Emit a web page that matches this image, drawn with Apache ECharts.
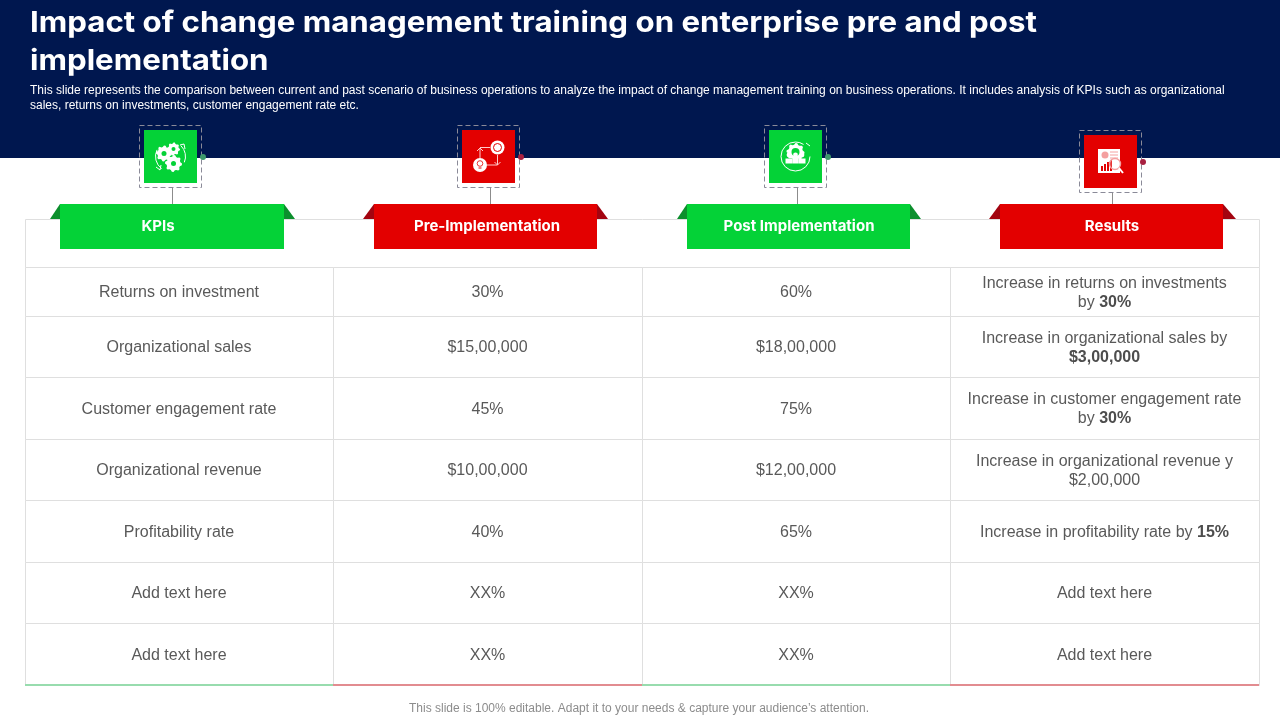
<!DOCTYPE html>
<html>
<head>
<meta charset="utf-8">
<title>Change management training</title>
<script src="https://cdn.jsdelivr.net/npm/echarts@6/dist/echarts.min.js"></script>
<style>
  html, body { margin: 0; padding: 0; background: #fff; }
  #main { width: 1280px; height: 720px; }
</style>
</head>
<body>
<div id="main"></div>
<script>
// table content
const titleLines = [
  'Impact of change management training on enterprise pre and post',
  'implementation'
];
const subtitleLines = [
  'This slide represents the comparison between current and past scenario of business operations to analyze the impact of change management training on business operations. It includes analysis of KPIs such as organizational',
  'sales, returns on investments, customer engagement rate etc.'
];
const footerText = 'This slide is 100% editable. Adapt it to your needs & capture your audience’s attention.';
const headers = ['KPIs', 'Pre-Implementation', 'Post Implementation', 'Results'];
const kpis = ['Returns on investment', 'Organizational sales', 'Customer engagement rate', 'Organizational revenue', 'Profitability rate', 'Add text here', 'Add text here'];
const preValues = ['30%', '$15,00,000', '45%', '$10,00,000', '40%', 'XX%', 'XX%'];
const postValues = ['60%', '$18,00,000', '75%', '$12,00,000', '65%', 'XX%', 'XX%'];
const results = [
  'Increase in returns on investments\nby {b|30%}',
  'Increase in organizational sales by\n{b|$3,00,000}',
  'Increase in customer engagement rate\nby {b|30%}',
  'Increase in organizational revenue y\n$2,00,000',
  'Increase in profitability rate by {b|15%}',
  'Add text here',
  'Add text here'
];

// layout, in slide pixels
const columnEdges = [25, 333, 642, 950, 1259];
const rowEdges = [267, 316, 377, 439, 500, 562, 623, 685];
const headerTop = 219;
const BAND = '#00174f';
const GREEN = '#04d237';
const RED = '#e30000';
const banners = [
  { color: GREEN, dark: '#0c8f2d', dot: '#3d9a6b', icon: [144, 130], left: 60, right: 284, wingL: 50, wingR: 295, textX: 158 },
  { color: RED, dark: '#a30410', dot: '#a82040', icon: [462, 130], left: 374, right: 597, wingL: 363, wingR: 608, textX: 487 },
  { color: GREEN, dark: '#0c8f2d', dot: '#3d9a6b', icon: [769, 130], left: 687, right: 910, wingL: 677, wingR: 921, textX: 799 },
  { color: RED, dark: '#a30410', dot: '#a82040', icon: [1084, 135], left: 1000, right: 1223, wingL: 989, wingR: 1236, textX: 1112 }
];

const tableColumns = [kpis, preValues, postValues, results];
const ICON_SIZE = 53;

function gearPoints(cx, cy, r, teeth) {
  const pts = [];
  const n = teeth * 4;
  for (let i = 0; i < n; i++) {
    const a = (i / n) * Math.PI * 2;
    const rr = i % 4 < 2 ? r : r * 0.82;
    pts.push([cx + rr * Math.cos(a), cy + rr * Math.sin(a)]);
  }
  return pts;
}
function gear(cx, cy, r, hole, holeColor) {
  return [
    { type: 'polygon', shape: { points: gearPoints(cx, cy, r, 8) }, style: { fill: '#fff' } },
    { type: 'circle', shape: { cx, cy, r: hole }, style: { fill: holeColor } }
  ];
}
function line(x1, y1, x2, y2, color, width) {
  return { type: 'line', shape: { x1, y1, x2, y2 }, style: { stroke: color, lineWidth: width || 1 } };
}
function arc(cx, cy, r, a0, a1) {
  return { type: 'arc', shape: { cx, cy, r, startAngle: a0, endAngle: a1 }, style: { stroke: '#fff', fill: 'none', lineWidth: 1 } };
}
function circle(cx, cy, r, fill) {
  return { type: 'circle', shape: { cx, cy, r }, style: { fill } };
}
function rect(x, y, width, height, fill) {
  return { type: 'rect', shape: { x, y, width, height }, style: { fill } };
}

// 四个小图标
function iconGears() {
  return [
    arc(170.5, 156.5, 15, 2.2, 3.6), arc(170.5, 156.5, 15, -0.8, 0.4),
    line(156, 167, 160, 170, '#fff'), line(160, 170, 161, 165, '#fff'),
    line(180, 145, 184, 144, '#fff'), line(184, 144, 185, 149, '#fff')
  ].concat(gear(164, 153.5, 8, 2.5, GREEN), gear(173.5, 149, 6.5, 2, GREEN), gear(173.5, 163.5, 8.5, 2.5, GREEN));
}
function iconCycle() {
  const pink = '#ffc9c9';
  return [
    line(480, 158, 480, 148, pink), line(477, 151, 480, 148, pink), line(483, 151, 480, 148, pink),
    line(480, 147.5, 490, 147.5, pink), line(497.5, 155, 497.5, 165, pink),
    line(494.5, 162, 497.5, 165, pink), line(500.5, 162, 497.5, 165, pink), line(497.5, 165, 487, 165, pink),
    circle(497.5, 147.5, 7, '#fff'),
    { type: 'circle', shape: { cx: 497.5, cy: 147.5, r: 4 }, style: { fill: 'none', stroke: RED, lineWidth: 1 } },
    circle(480, 165, 7, '#fff'),
    { type: 'circle', shape: { cx: 480, cy: 163.5, r: 2.8 }, style: { fill: 'none', stroke: RED, lineWidth: 0.8 } },
    line(478.5, 168, 481.5, 168, RED)
  ];
}
function iconPeople() {
  return [
    arc(795.5, 156.5, 14.5, 0, 5.3),
    line(806, 143, 810, 146, '#fff')
  ].concat(gear(795.5, 152, 9, 4, GREEN), [
    circle(789, 155, 2.4, '#fff'), circle(795.5, 155, 2.4, '#fff'), circle(802, 155, 2.4, '#fff'),
    rect(785.5, 158.5, 6.6, 5, '#fff'), rect(792.2, 158.5, 6.6, 5, '#fff'), rect(798.9, 158.5, 6.6, 5, '#fff')
  ]);
}
function iconReport() {
  const pink = '#f4a0a0';
  return [
    rect(1098, 149, 22, 24, '#fff'),
    { type: 'circle', shape: { cx: 1105, cy: 155, r: 3.5 }, style: { fill: pink } },
    line(1110, 152, 1118, 152, pink), line(1110, 155, 1118, 155, pink), line(1110, 158, 1118, 158, pink),
    rect(1101, 166, 2, 5, RED), rect(1104, 164, 2, 7, RED), rect(1107, 162, 2, 9, RED), rect(1110, 160, 2, 11, RED),
    { type: 'circle', shape: { cx: 1115, cy: 164, r: 5.5 }, style: { fill: 'rgba(255,255,255,0.2)', stroke: pink, lineWidth: 1.4 } },
    line(1119, 168, 1123, 173, '#fff', 2)
  ];
}
const iconBuilders = [iconGears, iconCycle, iconPeople, iconReport];

function buildBannerGraphics() {
  const out = [];
  banners.forEach((b, i) => {
    const [ix, iy] = b.icon;
    const cx = Math.round(ix + ICON_SIZE / 2) + 1.5;
    out.push(line(cx, iy + 58, cx, 204, '#8c8c8c'));
    out.push({
      type: 'rect',
      shape: { x: ix - 4.5, y: iy - 4.5, width: ICON_SIZE + 9, height: ICON_SIZE + 9 },
      style: { fill: 'none', stroke: '#8a8a98', lineWidth: 1, lineDash: [5, 3] }
    });
    out.push(rect(ix, iy, ICON_SIZE, ICON_SIZE, b.color));
    out.push(circle(ix + ICON_SIZE + 6, iy + 27, 3, b.dot));
    iconBuilders[i]().forEach(el => out.push(el));
    out.push({ type: 'polygon', shape: { points: [[b.wingL, headerTop], [b.left, 204], [b.left, headerTop]] }, style: { fill: b.dark } });
    out.push({ type: 'polygon', shape: { points: [[b.right, 204], [b.wingR, headerTop], [b.right, headerTop]] }, style: { fill: b.dark } });
    out.push(rect(b.left, 204, b.right - b.left, 45, b.color));
    out.push({
      type: 'text',
      style: { text: headers[i], x: b.textX, y: 226, align: 'center', verticalAlign: 'middle', fill: '#fff', font: 'bold 15px Inter, "Noto Sans", sans-serif' }
    });
  });
  return out;
}

function textEl(text, x, y, font, fill, align) {
  return { type: 'text', style: { text, x, y, align: align || 'left', verticalAlign: 'middle', fill, font } };
}

// 标题字体没有原来那么宽，横向拉一点
function titleEl(text, y) {
  const el = textEl(text, 30, y, 'bold 29px Inter, "Noto Sans", sans-serif', '#fff');
  el.originX = 30;
  el.originY = y;
  el.scaleX = 1.077;
  return el;
}

function buildGraphics() {
  const subFont = '12px "Liberation Sans", Arial, sans-serif';
  const els = [
    rect(0, 0, 1280, 158, BAND),
    titleEl(titleLines[0], 23),
    titleEl(titleLines[1], 61),
    textEl(subtitleLines[0], 30, 91, subFont, '#fff'),
    textEl(subtitleLines[1], 30, 106, subFont, '#fff'),
    textEl(footerText, 639, 709, subFont, '#8c8c8c', 'center')
  ].concat(buildBannerGraphics());
  // 放到表格上面
  els.forEach(el => { el.z = 100; });
  return els;
}

// 表格单元格，经过坐标轴换算
function renderCell(params, api) {
  const col = api.value(0);
  const row = api.value(1);
  const p0 = api.coord([columnEdges[col], rowEdges[row]]);
  const p1 = api.coord([columnEdges[col + 1], rowEdges[row + 1]]);
  return {
    type: 'group',
    children: [
      {
        type: 'rect',
        shape: { x: p0[0] + 0.5, y: p0[1] + 0.5, width: p1[0] - p0[0], height: p1[1] - p0[1] },
        style: { fill: '#fff', stroke: '#dfdfdf', lineWidth: 1 }
      },
      {
        type: 'text',
        z2: 5,
        style: {
          text: tableColumns[col][row],
          x: (p0[0] + p1[0]) / 2,
          y: (p0[1] + p1[1]) / 2 + 1.5,
          align: 'center',
          verticalAlign: 'middle',
          fill: '#595959',
          font: '16px "Liberation Sans", Arial, sans-serif',
          lineHeight: 19,
          rich: { b: { fontWeight: 'bold', fontSize: 16, fontFamily: '"Liberation Sans", Arial, sans-serif', fill: '#4d4d4d', lineHeight: 19 } }
        }
      }
    ]
  };
}

// 表头空行和底部彩色线
function renderHeaderRow(params, api) {
  const p0 = api.coord([columnEdges[0], headerTop]);
  const p1 = api.coord([columnEdges[4], rowEdges[0]]);
  return {
    type: 'rect',
    shape: { x: p0[0] + 0.5, y: p0[1] + 0.5, width: p1[0] - p0[0], height: p1[1] - p0[1] },
    style: { fill: '#fff', stroke: '#dfdfdf', lineWidth: 1 }
  };
}
function renderBottomLine(params, api) {
  const col = api.value(0);
  const p0 = api.coord([columnEdges[col], rowEdges[rowEdges.length - 1]]);
  const p1 = api.coord([columnEdges[col + 1], rowEdges[rowEdges.length - 1]]);
  return {
    type: 'rect',
    shape: { x: p0[0], y: p0[1] - 1, width: p1[0] - p0[0], height: 2 },
    style: { fill: col % 2 === 0 ? '#98dcae' : '#e28c90' }
  };
}

const cellData = [];
tableColumns.forEach((column, c) => {
  column.forEach((text, r) => cellData.push([c, r]));
});

const chart = echarts.init(document.getElementById('main'));
chart.setOption({
  animation: false,
  backgroundColor: '#fff',
  grid: { left: 0, right: 0, top: 0, bottom: 0 },
  xAxis: { type: 'value', min: 0, max: 1280, show: false },
  yAxis: { type: 'value', min: 0, max: 720, inverse: true, show: false },
  tooltip: { show: false },
  graphic: { elements: buildGraphics() },
  series: [
    { type: 'custom', coordinateSystem: 'cartesian2d', renderItem: renderHeaderRow, data: [[0]], silent: true, z: 1, clip: false },
    { type: 'custom', coordinateSystem: 'cartesian2d', renderItem: renderCell, data: cellData, silent: true, z: 2, clip: false },
    { type: 'custom', coordinateSystem: 'cartesian2d', renderItem: renderBottomLine, data: headers.map((h, i) => [i]), silent: true, z: 3, clip: false }
  ]
});
</script>
</body>
</html>
